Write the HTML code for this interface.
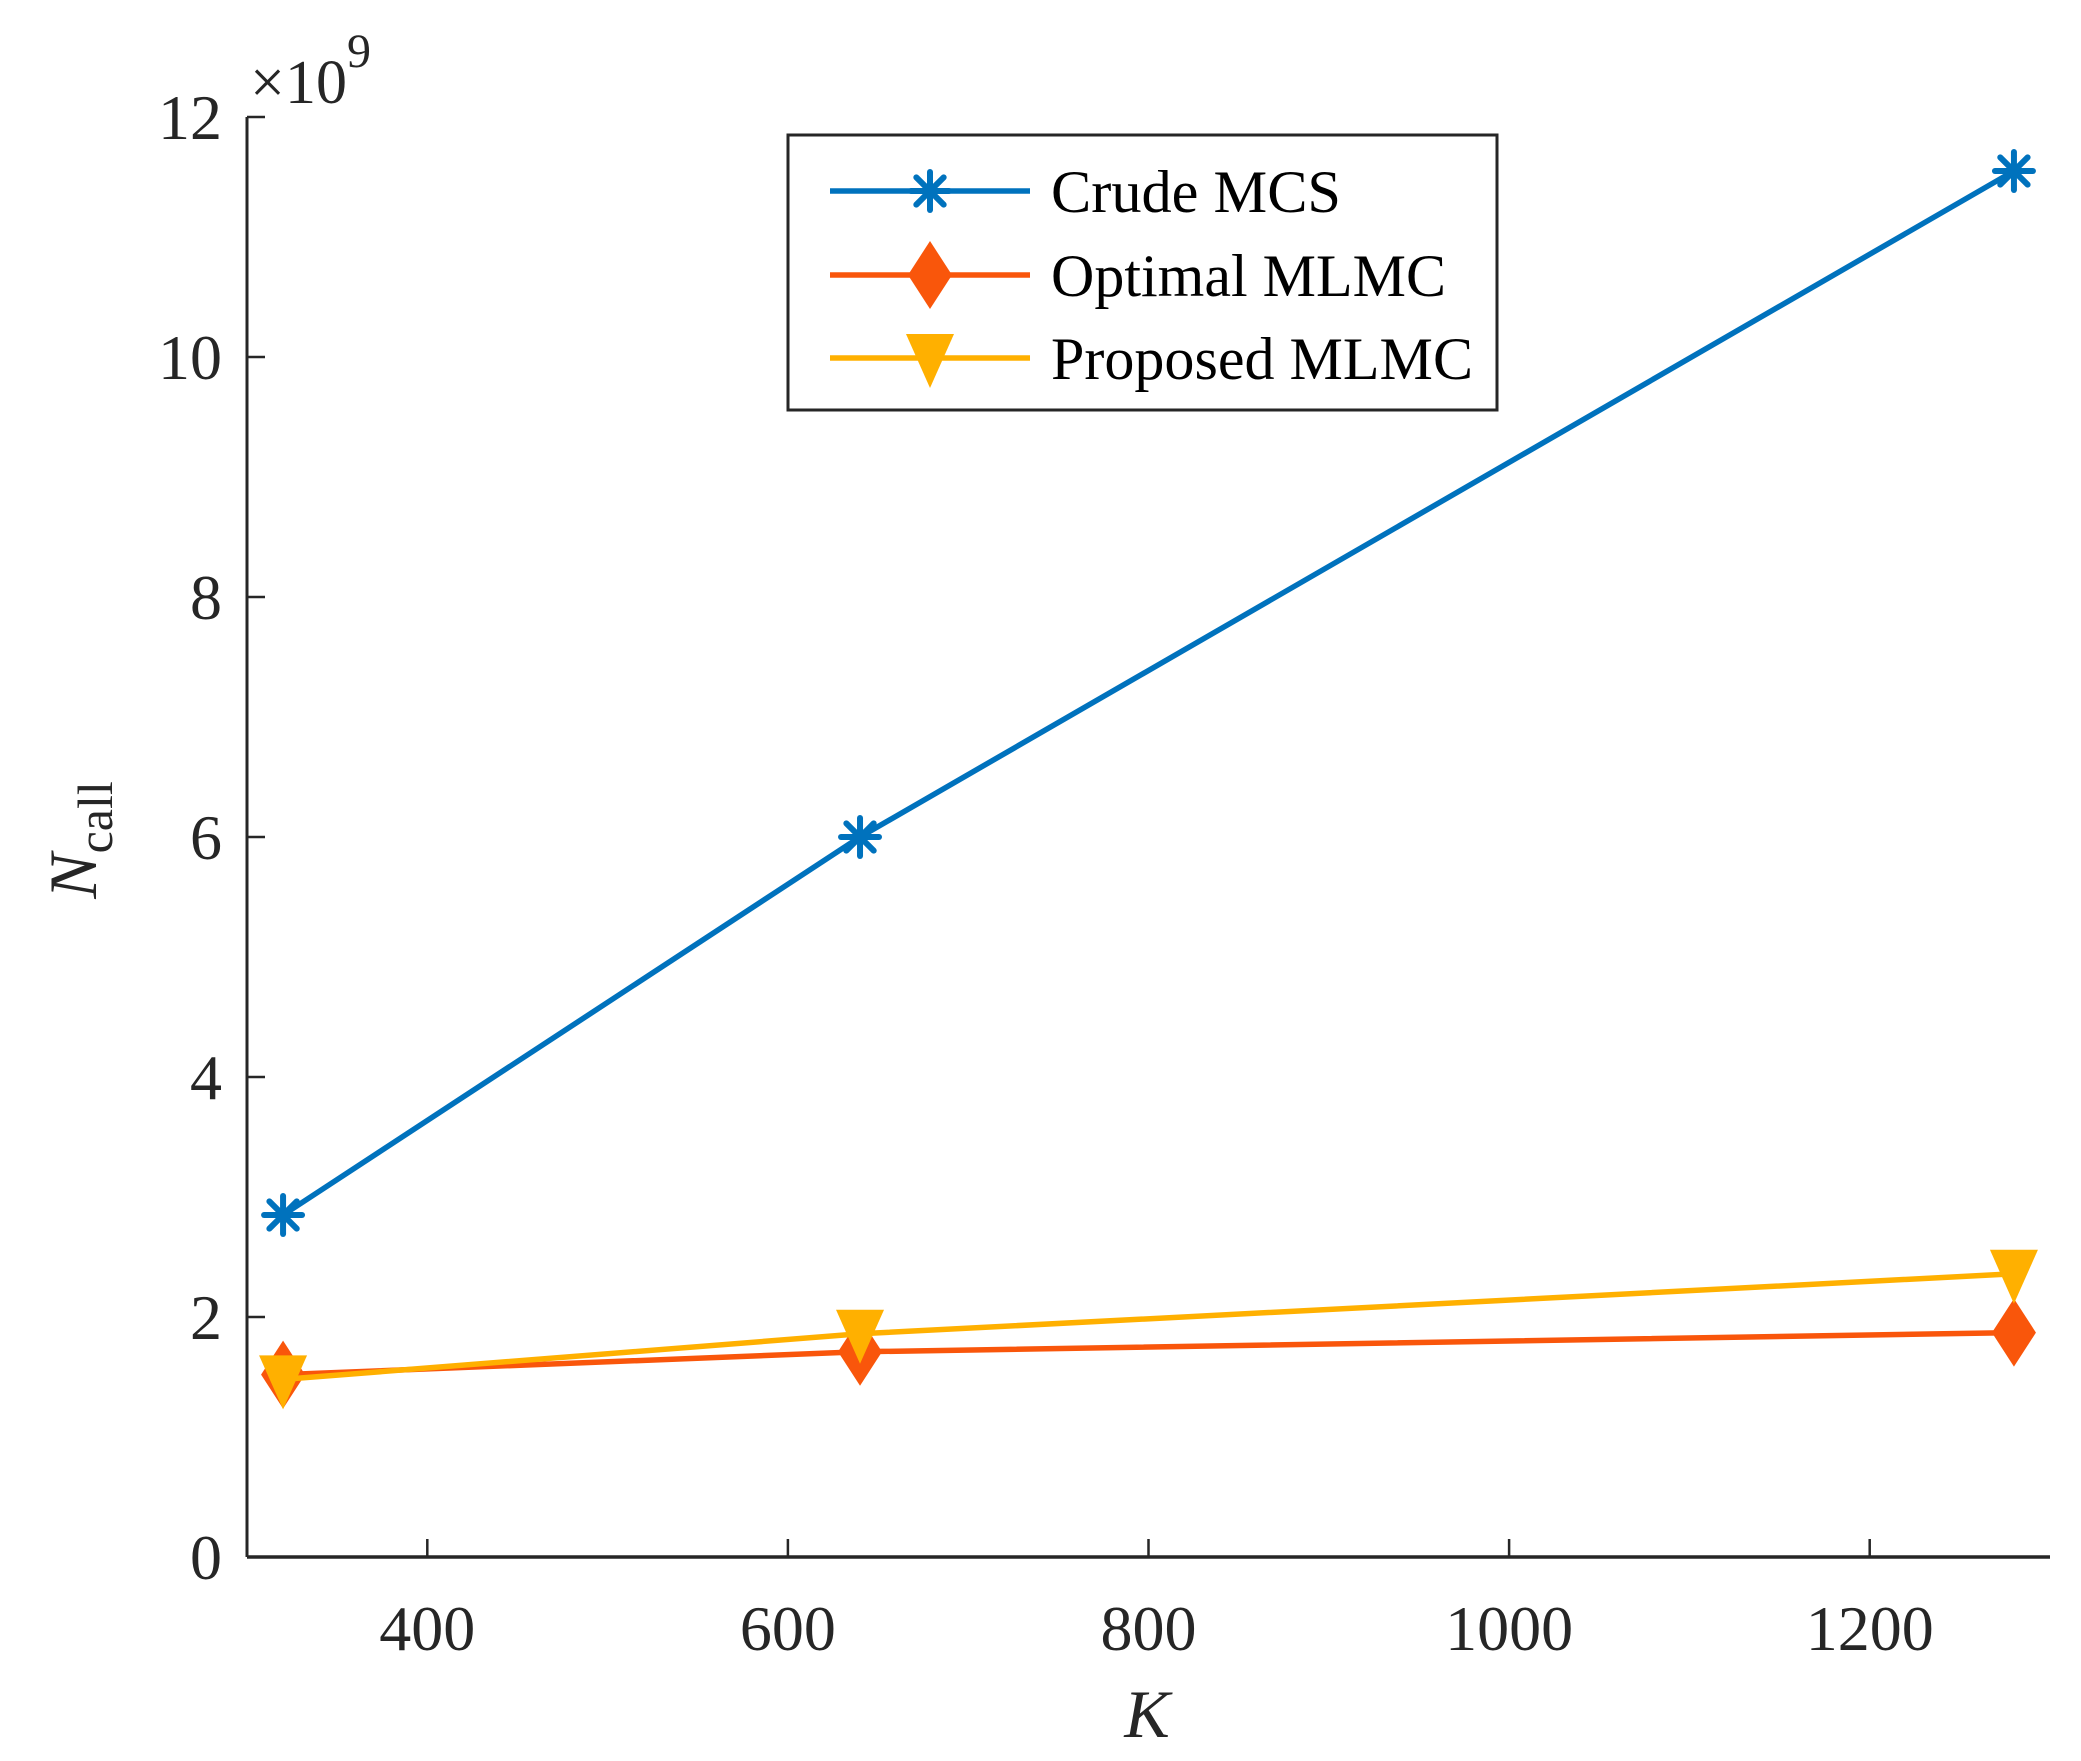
<!DOCTYPE html>
<html><head><meta charset="utf-8"><style>
html,body{margin:0;padding:0;background:#fff;}
svg{display:block;font-family:"Liberation Serif",serif;}
</style></head><body>
<svg id="chart" width="2081" height="1761" viewBox="0 0 2081 1761">
<g id="axes"></g>
<g id="series"></g>
<g id="legend"></g>
</svg>
<script>
const categories = [320, 640, 1280];
const crudeMCS = [2.85, 6.0, 11.55];
const optimalMLMC = [1.52, 1.71, 1.87];
const proposedMLMC = [1.48, 1.86, 2.36];
const xTicks = [400, 600, 800, 1000, 1200];
const yTicks = [0, 2, 4, 6, 8, 10, 12];
const xDomain = [300, 1300];
const yDomain = [0, 12];

const NS = "http://www.w3.org/2000/svg";
const L = 247, R = 2050, T = 117, B = 1557;
function sx(v){ return L + (v - xDomain[0]) / (xDomain[1] - xDomain[0]) * (R - L); }
function sy(v){ return B - (v - yDomain[0]) / (yDomain[1] - yDomain[0]) * (B - T); }
function mk(tag, attrs, parent){
  const e = document.createElementNS(NS, tag);
  for (const k in attrs) e.setAttribute(k, attrs[k]);
  parent.appendChild(e); return e;
}
const axes = document.getElementById('axes');
const series = document.getElementById('series');
const legend = document.getElementById('legend');

let yAxis = mk('line', {x1:L, y1:T, x2:L, y2:B, stroke:'#262626', 'stroke-width':3}, axes);


let xAxis = mk('line', {x1:L, y1:B, x2:R, y2:B, stroke:'#262626', 'stroke-width':3.5}, axes);



xTicks.forEach(v => {
  const x = sx(v);
  const t = mk('line', {x1:x, y1:B, x2:x, y2:B-18, stroke:'#262626', 'stroke-width':2.5}, axes);
  
  
  const lb = mk('text', {x:x, y:1650, 'text-anchor':'middle', 'font-size':64, fill:'#262626'}, axes);
  lb.textContent = v;
  
  
});
yTicks.forEach(v => {
  const y = sy(v);
  const t = mk('line', {x1:L, y1:y, x2:L+18, y2:y, stroke:'#262626', 'stroke-width':2.5}, axes);
  
  
  const lb = mk('text', {x:222, y:y+22, 'text-anchor':'end', 'font-size':64, fill:'#262626'}, axes);
  lb.textContent = v;
  
  
});
const ex = mk('text', {x:250, y:103, 'font-size':62, fill:'#262626'}, axes);


ex.innerHTML = '×10<tspan dy="-36" font-size="48">9</tspan>';
const xt = mk('text', {x:1147, y:1737, 'text-anchor':'middle', 'font-size':68, 'font-style':'italic', fill:'#262626'}, axes);
xt.textContent = 'K';


const yt = mk('text', {x:0, y:0, 'text-anchor':'middle', 'font-size':68, fill:'#262626', transform:'translate(96,840) rotate(-90)'}, axes);
yt.innerHTML = '<tspan font-style="italic">N</tspan><tspan dy="16" font-size="50">call</tspan>';



function marker(type, x, y, color, parent){
  let m;
  if (type === 'star') {
    m = mk('g', {stroke:color, 'stroke-width':6, 'stroke-linecap':'round'}, parent);
    const r = 19;
    mk('line', {x1:x-r, y1:y, x2:x+r, y2:y}, m);
    mk('line', {x1:x, y1:y-r, x2:x, y2:y+r}, m);
    const d = r*0.72;
    mk('line', {x1:x-d, y1:y-d, x2:x+d, y2:y+d}, m);
    mk('line', {x1:x-d, y1:y+d, x2:x+d, y2:y-d}, m);
  } else if (type === 'diamond') {
    m = mk('polygon', {points:`${x},${y-34} ${x+22},${y} ${x},${y+34} ${x-22},${y}`, fill:color}, parent);
  } else {
    m = mk('polygon', {points:`${x-24},${y-24} ${x+24},${y-24} ${x},${y+30}`, fill:color}, parent);
  }
  return m;
}

const defs = [
  {name:'crude-mcs', label:'Crude MCS', data:crudeMCS, color:'#0072BD', m:'star'},
  {name:'optimal-mlmc', label:'Optimal MLMC', data:optimalMLMC, color:'#F9560B', m:'diamond'},
  {name:'proposed-mlmc', label:'Proposed MLMC', data:proposedMLMC, color:'#FFB000', m:'tri'}
];
defs.forEach(s => {
  const g = mk('g', {}, series);
  
  
  const pts = categories.map((c,i) => sx(c) + ',' + sy(s.data[i])).join(' ');
  const pl = mk('polyline', {points:pts, fill:'none', stroke:s.color, 'stroke-width':5.5}, g);
  
  
  categories.forEach((c,i) => {
    const m = marker(s.m, sx(c), sy(s.data[i]), s.color, g);
    
    
  });
});

const box = mk('rect', {x:788, y:135, width:709, height:275, fill:'#fff', stroke:'#262626', 'stroke-width':3}, legend);


const ly = [191, 275, 358];
defs.forEach((s,i) => {
  const g = mk('g', {}, legend);
  
  
  mk('line', {x1:830, y1:ly[i], x2:1030, y2:ly[i], stroke:s.color, 'stroke-width':5.5}, g);
  marker(s.m, 930, ly[i], s.color, g);
  const t = mk('text', {x:1051, y:ly[i]+21, 'font-size':60, fill:'#000', textLength: [290, 395, 422][i], lengthAdjust:'spacingAndGlyphs'}, g);
  t.textContent = s.label;
});
</script>
</body></html>
